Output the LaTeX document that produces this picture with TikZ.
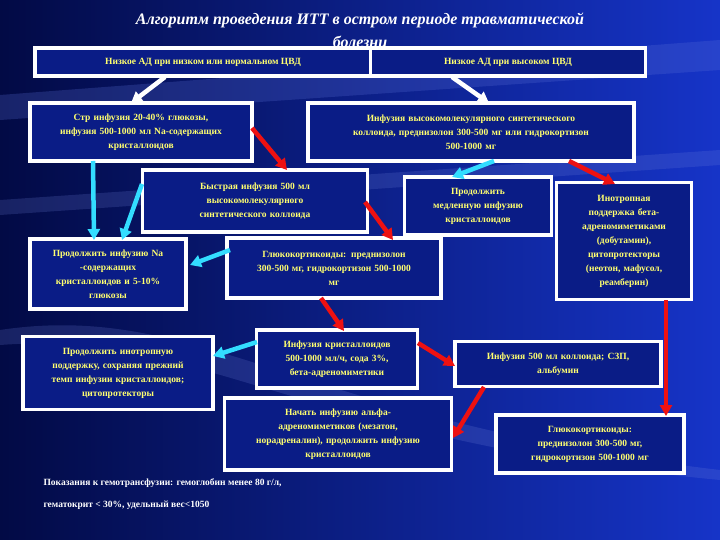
\documentclass[tikz,border=0pt]{standalone}
\usepackage{fontspec}
\setmainfont{Liberation Serif}
\usetikzlibrary{arrows.meta}
\definecolor{bgdark}{HTML}{020A45}
\definecolor{bgblue}{HTML}{1634C8}
\definecolor{boxfill}{HTML}{0A1C86}
\definecolor{txt}{HTML}{FFFF70}
\definecolor{cy}{HTML}{33DDFF}
\definecolor{rd}{HTML}{EE1111}
\begin{document}
\begin{tikzpicture}[x=1pt,y=-1pt,
  bx/.style={draw=white,line width=3.5pt,fill=boxfill,text=txt,font=\bfseries\fontsize{9.5}{14}\selectfont,align=center,inner sep=2pt},
  arr/.style={line width=4.5pt,-{Triangle[length=11pt,width=12pt]}},
  wa/.style={arr,white},
  ca/.style={arr,cy},
  ra/.style={arr,rd}]
\useasboundingbox (0,0) rectangle (720,540);
\shade[left color=bgdark,right color=bgblue] (0,0) rectangle (720,540);
\fill[bgblue!70!white,opacity=0.25] (0,95) -- (720,40) -- (720,70) -- (0,120) -- cycle;
\fill[bgblue!60!white,opacity=0.2] (0,200) -- (720,150) -- (720,165) -- (0,215) -- cycle;
\fill[bgblue!60!white,opacity=0.2] (0,330) .. controls (200,300) and (300,420) .. (720,470) -- (720,480) .. controls (300,440) and (200,330) .. (0,345) -- cycle;
\node[text=white,font=\bfseries\itshape\fontsize{16}{23}\selectfont,align=center] (title) at (360,30) {Алгоритм проведения ИТТ в остром периоде травматической\\болезни};
\node[bx,minimum width=336pt,minimum height=28pt] (top1) at (203,62) {Низкое АД при низком или нормальном ЦВД};
\node[bx,minimum width=275pt,minimum height=28pt] (top2) at (508,62) {Низкое АД при высоком ЦВД};
\node[bx,minimum width=222pt,minimum height=58pt,text width=214pt] (b1) at (141,132) {Стр инфузия 20-40\% глюкозы,\\инфузия 500-1000 мл Na-содержащих\\кристаллоидов};
\node[bx,minimum width=326pt,minimum height=58pt,text width=318pt] (b2) at (471,132) {Инфузия высокомолекулярного синтетического\\коллоида, преднизолон 300-500 мг или гидрокортизон\\500-1000 мг};
\node[bx,minimum width=225pt,minimum height=62pt,text width=200pt] (b3) at (255,201) {Быстрая инфузия 500 мл\\высокомолекулярного\\синтетического коллоида};
\node[bx,minimum width=147pt,minimum height=58pt,text width=140pt] (b4) at (478,206) {Продолжить\\медленную инфузию\\кристаллоидов};
\node[bx,minimum width=135pt,minimum height=117pt,text width=128pt] (b5) at (624,241) {Инотропная\\поддержка бета-\\адреномиметиками\\(добутамин),\\цитопротекторы\\(неотон, мафусол,\\реамберин)};
\node[bx,minimum width=156pt,minimum height=70pt,text width=150pt] (b6) at (108,274) {Продолжить инфузию Na\\-содержащих\\кристаллоидов и 5-10\%\\глюкозы};
\node[bx,minimum width=214pt,minimum height=60pt,text width=206pt] (b7) at (334,268) {Глюкокортикоиды: преднизолон\\300-500 мг, гидрокортизон 500-1000\\мг};
\node[bx,minimum width=190pt,minimum height=73pt,text width=184pt] (b8) at (118,373) {Продолжить инотропную\\поддержку, сохраняя прежний\\темп инфузии кристаллоидов;\\цитопротекторы};
\node[bx,minimum width=161pt,minimum height=58pt,text width=155pt] (b9) at (337,359) {Инфузия кристаллоидов\\500-1000 мл/ч, сода 3\%,\\бета-адреномиметики};
\node[bx,minimum width=206pt,minimum height=45pt,text width=200pt] (b10) at (558,364) {Инфузия 500 мл коллоида; СЗП,\\альбумин};
\node[bx,minimum width=227pt,minimum height=72pt,text width=221pt] (b11) at (338,434) {Начать инфузию альфа-\\адреномиметиков (мезатон,\\норадреналин), продолжить инфузию\\кристаллоидов};
\node[bx,minimum width=188pt,minimum height=58pt,text width=182pt] (b12) at (590,444) {Глюкокортикоиды:\\преднизолон 300-500 мг,\\гидрокортизон 500-1000 мг};
\node[text=white,font=\bfseries\fontsize{9.5}{22}\selectfont,align=left,anchor=north west] (note) at (40,475) {Показания к гемотрансфузии: гемоглобин менее 80 г/л,\\гематокрит < 30\%, удельный вес<1050};
% connector points
\coordinate (w1s) at (165,77); \coordinate (w1e) at (131,103);
\coordinate (w2s) at (452,77); \coordinate (w2e) at (489,103);
\coordinate (r1s) at (252,128); \coordinate (r1e) at (287,170);
\coordinate (c1s) at (93,161); \coordinate (c1e) at (94,240);
\coordinate (c2s) at (494,161); \coordinate (c2e) at (452,177);
\coordinate (r2s) at (569,161); \coordinate (r2e) at (615,184);
\coordinate (c3s) at (142,184); \coordinate (c3e) at (122,240);
\coordinate (r3s) at (365,202); \coordinate (r3e) at (393,240);
\coordinate (c4s) at (230,250); \coordinate (c4e) at (190,265);
\coordinate (r4s) at (321,298); \coordinate (r4e) at (344,331);
\coordinate (r5s) at (666,300); \coordinate (r5e) at (666,416);
\coordinate (c5s) at (257,342); \coordinate (c5e) at (213,356);
\coordinate (r6s) at (418,343); \coordinate (r6e) at (455,366);
\coordinate (r7s) at (484,387); \coordinate (r7e) at (453,438);
\draw[wa] (w1s) -- (w1e);
\draw[wa] (w2s) -- (w2e);
\draw[ra] (r1s) -- (r1e);
\draw[ca] (c1s) -- (c1e);
\draw[ca] (c2s) -- (c2e);
\draw[ra] (r2s) -- (r2e);
\draw[ca] (c3s) -- (c3e);
\draw[ra] (r3s) -- (r3e);
\draw[ca] (c4s) -- (c4e);
\draw[ra] (r4s) -- (r4e);
\draw[ra] (r5s) -- (r5e);
\draw[ca] (c5s) -- (c5e);
\draw[ra] (r6s) -- (r6e);
\draw[ra] (r7s) -- (r7e);
\end{tikzpicture}
\end{document}
